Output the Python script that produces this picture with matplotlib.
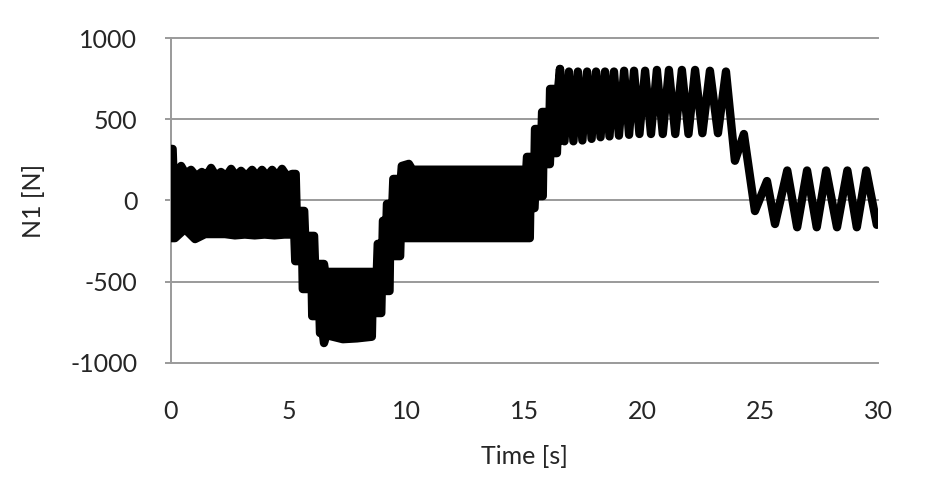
import numpy as np
import matplotlib.pyplot as plt

# -----------------------------
# DATA
# -----------------------------
# dense part of the signal: upper / lower envelope of the black band
band_top_t = [0.00, 0.08, 0.12, 0.44, 0.63, 0.86, 1.08, 1.32, 1.50, 1.71, 1.92, 2.13,
              2.35, 2.56, 2.77, 2.98, 3.20, 3.45, 3.66, 3.87, 4.08, 4.30, 4.51, 4.72,
              4.93, 5.15, 5.30, 5.34, 5.66, 5.70, 6.08, 6.12, 6.50, 6.55, 8.74, 8.78,
              8.98, 9.00, 9.15, 9.17, 9.40, 9.44, 9.76, 9.80, 10.10, 10.25, 15.08,
              15.11, 15.43, 15.45, 15.73, 15.75, 16.07, 16.09, 16.43, 16.51]
band_top_v = [318, 318, 146, 213, 165, 189, 150, 176, 150, 201, 150, 176,
              150, 195, 150, 183, 150, 189, 150, 189, 150, 189, 150, 195,
              150, 164, 164, -64, -64, -218, -218, -391, -391, -440, -440, -267,
              -267, -125, -125, -21, -21, 133, 133, 213, 226, 190, 190,
              269, 269, 441, 441, 546, 546, 688, 688, 811]

band_bot_t = [0.00, 0.18, 0.60, 1.03, 1.46, 1.88, 2.30, 2.72, 3.14, 3.56, 3.98, 4.40,
              4.82, 5.24, 5.28, 5.58, 5.60, 5.98, 6.00, 6.31, 6.33, 6.45, 6.50, 6.60,
              7.30, 7.90, 8.53, 8.55, 8.93, 8.95, 9.28, 9.30, 9.73, 9.75, 15.23,
              15.25, 15.43, 15.45, 15.78, 15.80, 16.08, 16.10, 16.38, 16.40, 16.51]
band_bot_v = [-232, -232, -176, -238, -207, -207, -207, -215, -210, -215, -210, -215,
              -210, -210, -374, -374, -546, -546, -713, -713, -817, -817, -879, -830,
              -855, -850, -840, -694, -694, -558, -558, -343, -343, -232, -232,
              -47, -47, 27, 27, 224, 224, 292, 292, 366, 366]

# clean oscillation part: successive peaks / troughs
osc_t = [16.51, 16.70, 16.89, 17.08, 17.27, 17.46, 17.66, 17.85, 18.04, 18.23, 18.42,
         18.61, 18.80, 19.01, 19.23, 19.44, 19.65, 19.88, 20.12, 20.37, 20.62, 20.87,
         21.13, 21.40, 21.68, 21.96, 22.24, 22.55, 22.87, 23.21, 23.55, 23.93, 24.31,
         24.78, 25.29, 25.63, 26.15, 26.57, 26.99, 27.40, 27.80, 28.26, 28.70, 29.10,
         29.50, 29.95]
osc_v = [811, 365, 795, 365, 795, 370, 795, 380, 795, 390, 795,
         395, 795, 400, 800, 405, 800, 410, 800, 410, 805, 410,
         805, 410, 805, 410, 805, 415, 800, 415, 795, 245, 410,
         -65, 120, -145, 185, -165, 185, -165, 185, -165, 185, -165,
         185, -150]

y_ticks = [-1000, -500, 0, 500, 1000]
x_ticks = [0, 5, 10, 15, 20, 25, 30]

# -----------------------------
# PLOT
# -----------------------------
plt.rcParams['font.family'] = ['Lato', 'DejaVu Sans']
plt.rcParams['axes.unicode_minus'] = False
GRID = '#9a9a9a'
TXT = '#262626'
LW = 6.0

fig = plt.figure(figsize=(9.31, 4.86), dpi=100)
ax = fig.add_axes([0.1834, 0.2537, 0.7597, 0.6675])

for yv in y_ticks:
    ax.axhline(yv, color=GRID, lw=1.4, zorder=1, clip_on=False)

band_x = band_top_t + band_bot_t[::-1]
band_y = band_top_v + band_bot_v[::-1]
ax.fill(band_x, band_y, facecolor='black', edgecolor='black', lw=LW,
        joinstyle='round', zorder=3)
ax.plot(osc_t, osc_v, color='black', lw=LW, solid_joinstyle='round',
        solid_capstyle='round', zorder=3)

ax.set_xlim(0, 30)
ax.set_ylim(-1000, 1000)
ax.set_xticks(x_ticks)
ax.set_yticks(y_ticks)

for s in ['top', 'right', 'bottom']:
    ax.spines[s].set_visible(False)
ax.spines['left'].set_color(GRID)
ax.spines['left'].set_linewidth(1.4)

ax.tick_params(axis='y', length=4, width=1.4, color=GRID, pad=20,
               labelsize=18, labelcolor=TXT)
ax.tick_params(axis='x', length=0, pad=27, labelsize=18, labelcolor=TXT)

ax.set_xlabel('Time [s]', fontsize=18, color=TXT)
ax.xaxis.set_label_coords(0.5, -0.255)
ax.set_ylabel('N1 [N]', fontsize=18, color=TXT)
ax.yaxis.set_label_coords(-0.178, 0.5)

fig.savefig('out.png', dpi=100)
